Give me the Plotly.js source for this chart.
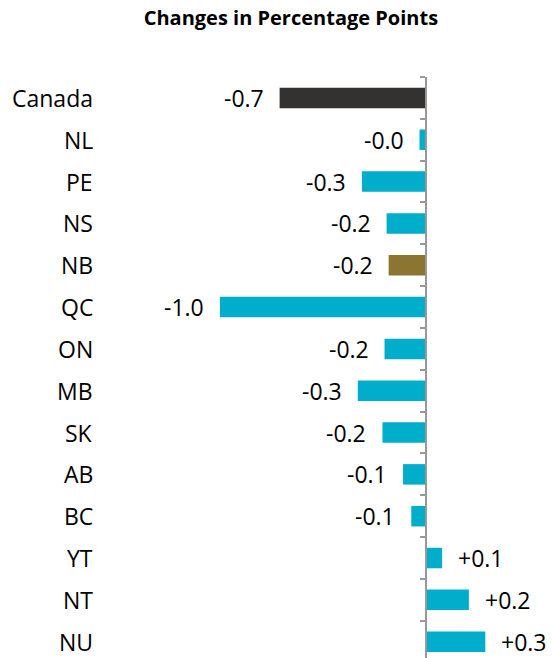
<!DOCTYPE html>
<html>
<head>
<meta charset="utf-8">
<script src="https://cdn.plot.ly/plotly-3.0.1.min.js"></script>
<style>html,body{margin:0;padding:0;background:#fff;}#chart{width:552px;height:658px;}</style>
</head>
<body>
<div id="chart"></div>
<script>
var categories = ["Canada","NL","PE","NS","NB","QC","ON","MB","SK","AB","BC","YT","NT","NU"];
var values = [-0.71,-0.03,-0.31,-0.19,-0.18,-1.0,-0.2,-0.33,-0.21,-0.11,-0.07,0.08,0.21,0.29];
var barColors = ["#333231","#00ADCB","#00ADCB","#00ADCB","#8B7530","#00ADCB","#00ADCB","#00ADCB","#00ADCB","#00ADCB","#00ADCB","#00ADCB","#00ADCB","#00ADCB"];
var titleText = "Changes in Percentage Points";

var FONT = "'Open Sans', sans-serif";
function fmt(v){ return (v < 0 ? "-" : "+") + Math.abs(v).toFixed(1); }

var xRange = [-1.583, 0.614];
var zeroPos = (0 - xRange[0]) / (xRange[1] - xRange[0]);

var annotations = [];
categories.forEach(function(c, i){
  var v = values[i];
  annotations.push({
    x: v, y: c, xref: "x", yref: "y", text: fmt(v), showarrow: false,
    xanchor: v < 0 ? "right" : "left", xshift: v < 0 ? -14 : 14,
    font: {family: FONT, size: 23, color: "#000"}
  });
  annotations.push({
    x: 0, y: c, xref: "paper", yref: "y", text: c, showarrow: false,
    xanchor: "right", xshift: -5,
    font: {family: FONT, size: 23, color: "#000"}
  });
});

var trace = {
  type: "bar", orientation: "h", x: values, y: categories,
  marker: {color: barColors, line: {width: 0}},
  width: 0.49, hoverinfo: "none"
};

var layout = {
  width: 552, height: 658,
  margin: {l: 100, r: 0, t: 77, b: 0},
  paper_bgcolor: "#fff", plot_bgcolor: "#fff",
  showlegend: false,
  title: {text: "<b>" + titleText + "</b>", x: 0.527, xanchor: "center", y: 0.972, yanchor: "middle",
          font: {family: FONT, size: 20, color: "#000"}},
  xaxis: {range: xRange, showgrid: false, zeroline: false, showline: false, showticklabels: false, ticks: ""},
  yaxis: {type: "category", categoryorder: "array", categoryarray: categories,
          range: [13.39, -0.5], anchor: "free", position: zeroPos,
          showline: true, linecolor: "#989898", linewidth: 2,
          ticks: "outside", tickson: "boundaries", ticklen: 5, tickwidth: 2, tickcolor: "#989898",
          showticklabels: false, showgrid: false, zeroline: false},
  annotations: annotations
};

Plotly.newPlot("chart", [trace], layout, {staticPlot: true, displayModeBar: false});
</script>
</body>
</html>
